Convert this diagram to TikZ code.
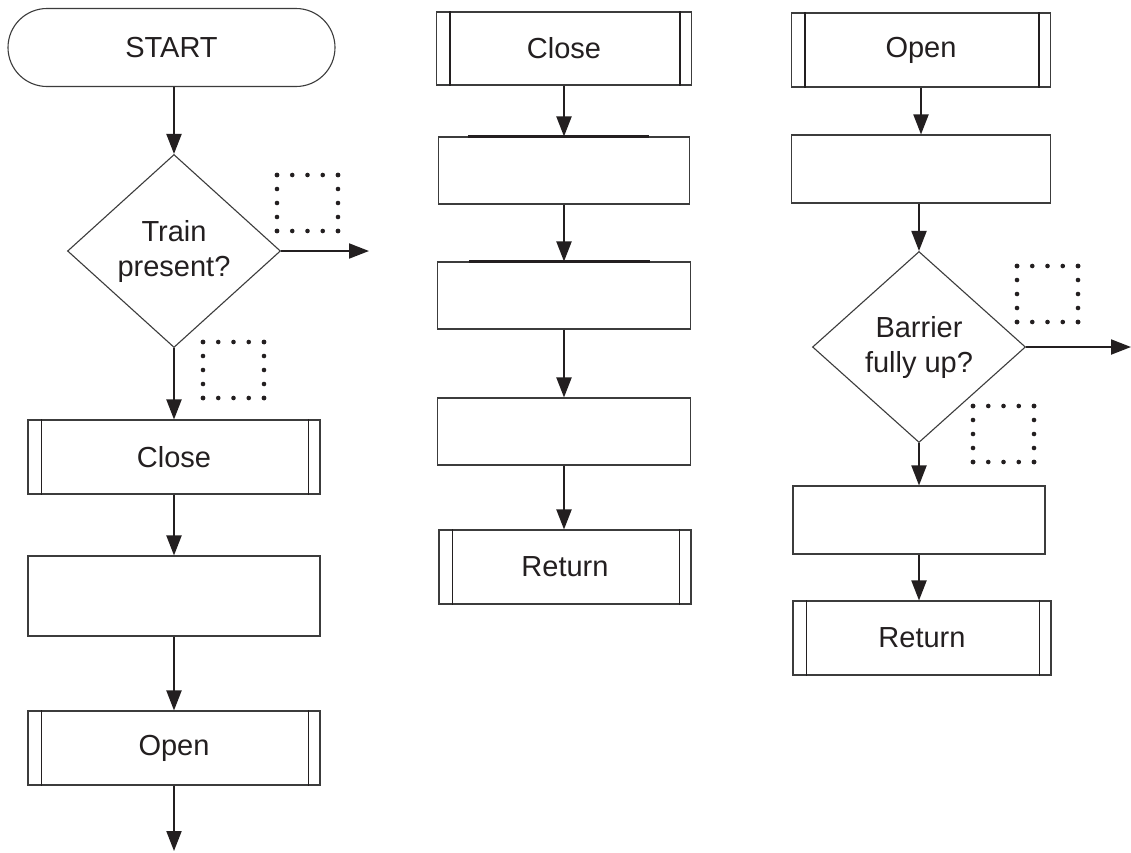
\documentclass[tikz,border=0pt]{standalone}
\usepackage{fontspec}
\setmainfont{Liberation Sans}
\usetikzlibrary{arrows.meta,shapes.geometric}
\definecolor{edge}{HTML}{3C3C3C}
\definecolor{ink}{HTML}{231F20}
\begin{document}
\begin{tikzpicture}[x=1pt,y=-1pt,
  box/.style={draw=edge,line width=1.1pt,rectangle,inner sep=0pt,
    font=\fontsize{29}{35}\selectfont,text=ink,align=center},
  term/.style={box,rounded corners=39pt,minimum width=327pt,minimum height=78pt},
  dec/.style={box,diamond,minimum width=213pt,minimum height=193pt},
  arr/.style={draw=ink,line width=2pt,-{Triangle[length=20pt,width=15pt]}},
  inner/.style={draw=ink,line width=1.6pt},
  topbar/.style={draw=ink,line width=2.2pt},
  dotsq/.pic={
    \foreach \i in {0,...,4}{
      \fill[ink] (\i*15.25,0) circle (2.3pt);
      \fill[ink] (\i*15.25,56) circle (2.3pt);
      \fill[ink] (0,\i*14) circle (2.3pt);
      \fill[ink] (61,\i*14) circle (2.3pt);
    }
  }]
\useasboundingbox (0,0) rectangle (1131,852);
\fill[white] (0,0) rectangle (1131,852);

% ---- column 1
\node[term] (start) at (171.5,47.5) {START};
\node[dec] (d1) at (174,251) {Train\\present?};
\node[box,minimum width=292pt,minimum height=74pt] (c1) at (174,457) {Close};
\node[box,minimum width=292pt,minimum height=80pt] (p1) at (174,596) {};
\node[box,minimum width=292pt,minimum height=74pt] (o1) at (174,748) {Open};
\coordinate (y1) at (369,251);
\coordinate (e1) at (174,851);

\draw[arr] (d1 |- start.south) -- (d1.north);
\draw[arr] (d1.east) -- (y1);
\draw[arr] (d1.south) -- (c1.north);
\draw[arr] (c1.south) -- (p1.north);
\draw[arr] (p1.south) -- (o1.north);
\draw[arr] (o1.south) -- (e1);

\pic at (277,175) {dotsq};
\pic at (203,342) {dotsq};

% ---- column 2
\node[box,minimum width=255pt,minimum height=73pt] (cc) at (564,48.5) {Close};
\node[box,minimum width=251pt,minimum height=67pt] (b21) at (564,170.5) {};
\node[box,minimum width=253pt,minimum height=67pt] (b22) at (564,295.5) {};
\node[box,minimum width=253pt,minimum height=67pt] (b23) at (564,431.5) {};
\node[box,minimum width=252pt,minimum height=74pt] (r2) at (565,567) {Return};

\draw[arr] (cc.south) -- (b21.north);
\draw[arr] (b21.south) -- (b22.north);
\draw[arr] (b22.south) -- (b23.north);
\draw[arr] (b23.south) -- (b23.south |- r2.north);

\draw[topbar] ([xshift=30pt]b21.north west) -- ([xshift=-41pt]b21.north east);
\draw[topbar] ([xshift=32pt]b22.north west) -- ([xshift=-41pt]b22.north east);

% ---- column 3
\node[box,minimum width=259pt,minimum height=74pt] (o3) at (921,50) {Open};
\node[box,minimum width=259pt,minimum height=68pt] (b31) at (921,169) {};
\node[dec,minimum height=191pt] (d2) at (919,347) {Barrier\\fully up?};
\node[box,minimum width=252pt,minimum height=68pt] (b32) at (919,520) {};
\node[box,minimum width=258pt,minimum height=74pt] (r3) at (922,638) {Return};
\coordinate (y2) at (1131,347);

\draw[arr] (o3.south) -- (b31.north);
\draw[arr] (d2 |- b31.south) -- (d2.north);
\draw[arr] (d2.east) -- (y2);
\draw[arr] (d2.south) -- (b32.north);
\draw[arr] (b32.south) -- (b32.south |- r3.north);

\pic at (1017,266) {dotsq};
\pic at (973,406) {dotsq};

% ---- predefined-process side bars
\foreach \n in {c1,o1,cc,r2,o3,r3}{
  \draw[inner] ([xshift=14pt]\n.north west) -- ([xshift=14pt]\n.south west);
  \draw[inner] ([xshift=-12pt]\n.north east) -- ([xshift=-12pt]\n.south east);
}
\end{tikzpicture}
\end{document}
